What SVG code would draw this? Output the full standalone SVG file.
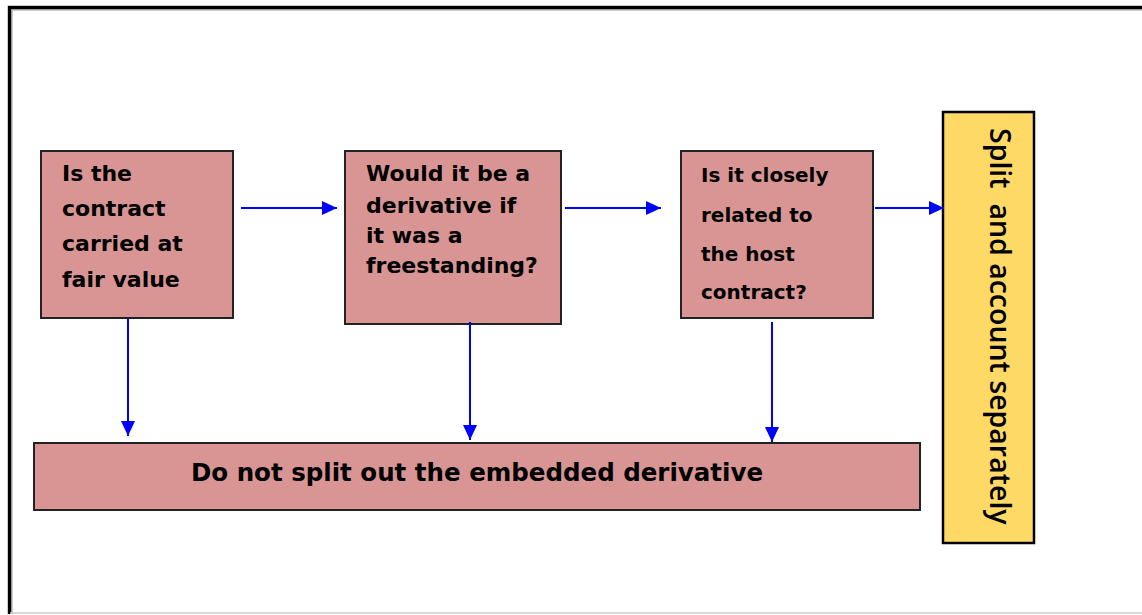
<svg xmlns="http://www.w3.org/2000/svg" width="1142" height="615" viewBox="0 0 1142 615">
<defs>
<marker id="ah" markerWidth="16" markerHeight="14" refX="15" refY="7" orient="auto" markerUnits="userSpaceOnUse">
<path d="M0,0 L15,7 L0,14 Z" fill="#0000FF"/>
</marker>
<style>
.box{fill:#D99594;stroke:#222;stroke-width:2}
.q{font-family:"DejaVu Sans",sans-serif;font-weight:bold;font-size:22px;fill:#000}
.conn{stroke:#0000FF;stroke-width:2;fill:none;marker-end:url(#ah)}
</style>
</defs>
<rect width="1142" height="615" fill="#fff"/>
<g id="frame">
<path d="M10,614 L10,8 L1142,8" fill="none" stroke="#999" stroke-width="5"/>
<path d="M9.5,614 L9.5,7.5 L1142,7.5" fill="none" stroke="#000" stroke-width="3"/>
<line x1="10" y1="613" x2="1142" y2="613" stroke="#ccc" stroke-width="1.5"/>
</g>
<g id="n1">
<rect class="box" x="41" y="151" width="192" height="167"/>
<text class="q" x="62"><tspan x="62" y="181">Is the</tspan><tspan x="62" y="216">contract</tspan><tspan x="62" y="251">carried at</tspan><tspan x="62" y="287">fair value</tspan></text>
</g>
<g id="n2">
<rect class="box" x="345" y="151" width="216" height="173"/>
<text class="q" x="366"><tspan x="366" y="181">Would it be a</tspan><tspan x="366" y="213">derivative if</tspan><tspan x="366" y="243">it was a</tspan><tspan x="366" y="273">freestanding?</tspan></text>
</g>
<g id="n3">
<rect class="box" x="681" y="151" width="192" height="167"/>
<text class="q" style="font-size:20px" x="701"><tspan x="701" y="182">Is it closely</tspan><tspan x="701" y="222">related to</tspan><tspan x="701" y="261">the host</tspan><tspan x="701" y="299">contract?</tspan></text>
</g>
<g id="n4">
<rect x="943" y="112" width="91" height="431" fill="#FFD966" stroke="#000" stroke-width="2.5"/>
<text transform="translate(990,128) rotate(90)" style="white-space:pre" font-family="'Open Sans','Noto Sans',sans-serif" font-size="28.5" font-weight="600" fill="#000">Split  and account separately</text>
</g>
<g id="n5">
<rect class="box" x="34" y="443" width="886" height="67"/>
<text class="q" style="font-size:24.5px" x="477" y="481" text-anchor="middle">Do not split out the embedded derivative</text>
</g>
<g id="connectors">
<line class="conn" x1="241" y1="208" x2="337" y2="208"/>
<line class="conn" x1="565" y1="208" x2="661" y2="208"/>
<line class="conn" x1="875" y1="208" x2="944" y2="208"/>
<line class="conn" x1="128" y1="318" x2="128" y2="436"/>
<line class="conn" x1="470" y1="322" x2="470" y2="440"/>
<line class="conn" x1="772" y1="322" x2="772" y2="442"/>
</g>
</svg>
